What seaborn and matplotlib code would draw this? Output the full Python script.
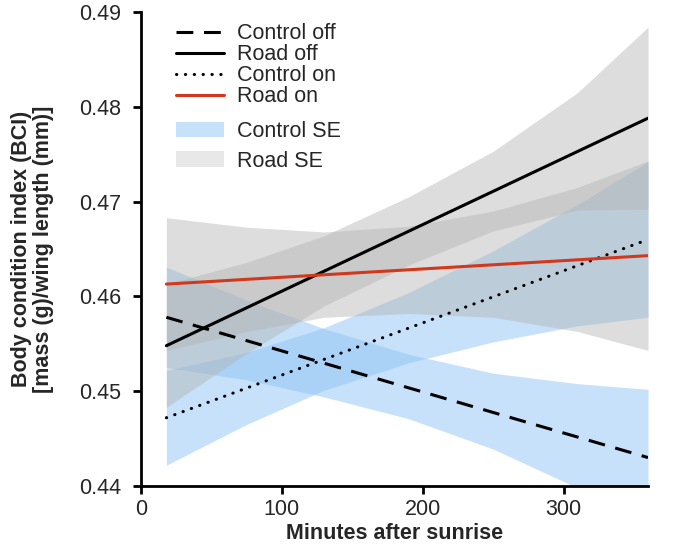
import matplotlib
matplotlib.use("Agg")
import matplotlib.pyplot as plt
from matplotlib.lines import Line2D
from matplotlib.patches import Patch
import numpy as np
import pandas as pd
import seaborn as sns

# fitted lines (endpoints of each regression)
x_line = [18, 360]
control_off = [0.4578, 0.4430]
road_off = [0.4548, 0.4788]
control_on = [0.4472, 0.4660]
road_on = [0.4613, 0.4643]

# SE bands read at these minutes
x_band = [18, 75, 130, 190, 250, 310, 360]
road_off_hi = [0.4613, 0.4636, 0.4664, 0.4705, 0.4753, 0.4815, 0.4884]
road_off_lo = [0.4483, 0.4540, 0.4590, 0.4633, 0.4669, 0.4691, 0.4692]
road_on_hi = [0.4683, 0.4673, 0.4668, 0.4674, 0.4690, 0.4715, 0.4743]
road_on_lo = [0.4543, 0.4563, 0.4578, 0.4582, 0.4578, 0.4563, 0.4543]
control_off_hi = [0.4631, 0.4596, 0.4566, 0.4539, 0.4519, 0.4508, 0.4502]
control_off_lo = [0.4525, 0.4512, 0.4494, 0.4471, 0.4439, 0.4398, 0.4358]
control_on_hi = [0.4522, 0.4541, 0.4567, 0.4604, 0.4648, 0.4697, 0.4742]
control_on_lo = [0.4422, 0.4465, 0.4501, 0.4530, 0.4552, 0.4569, 0.4578]

blue = "#8ec5f5"
grey = "#b4b4b4"
red = "#d2391c"
fs = 15.5

sns.set_style("ticks")
plt.rcParams["font.family"] = ["Liberation Sans", "DejaVu Sans"]

fig = plt.figure(figsize=(6.77, 5.48), dpi=100)
ax = fig.add_axes([0.2083, 0.1131, 0.7489, 0.865])

# bands
ax.fill_between(x_band, control_off_lo, control_off_hi, color=blue, alpha=0.5, lw=0)
ax.fill_between(x_band, control_on_lo, control_on_hi, color=blue, alpha=0.5, lw=0)
ax.fill_between(x_band, road_off_lo, road_off_hi, color=grey, alpha=0.45, lw=0)
ax.fill_between(x_band, road_on_lo, road_on_hi, color=grey, alpha=0.45, lw=0)

lines = pd.DataFrame({
    "x": x_line * 4,
    "y": control_off + road_off + control_on + road_on,
    "grp": ["Control off"] * 2 + ["Road off"] * 2 + ["Control on"] * 2 + ["Road on"] * 2,
})
styles = {
    "Control off": dict(color="black", ls=(0, (5.5, 3.5))),
    "Road off": dict(color="black", ls="-"),
    "Control on": dict(color="black", ls=(0, (0.1, 2.8)), dash_capstyle="round"),
    "Road on": dict(color=red, ls="-"),
}
for g, st in styles.items():
    d = lines[lines.grp == g]
    sns.lineplot(data=d, x="x", y="y", ax=ax, lw=2.2, **st)

ax.set_xlim(0, 360)
ax.set_ylim(0.44, 0.49)
ax.set_xticks([0, 100, 200, 300])
ax.set_yticks([0.44, 0.45, 0.46, 0.47, 0.48, 0.49])
ax.set_yticklabels(["0.44", "0.45", "0.46", "0.47", "0.48", "0.49"])
ax.tick_params(labelsize=fs, width=2, length=6, direction="out", color="black")
ax.tick_params(axis="y", pad=8)
sns.despine(ax=ax)
for s in ["left", "bottom"]:
    ax.spines[s].set_linewidth(2)
    ax.spines[s].set_color("black")

ax.set_xlabel("Minutes after sunrise", fontsize=fs, fontweight="bold", labelpad=2)
ax.set_ylabel("Body condition index (BCI)\n[mass (g)/wing length (mm)]",
              fontsize=fs, fontweight="bold", linespacing=1.05)
ax.yaxis.set_label_coords(-0.172, 0.5)

h1 = [Line2D([], [], lw=2.2, **styles[g]) for g in styles]
leg1 = ax.legend(h1, list(styles), loc="upper left", bbox_to_anchor=(0.039, 1.008),
                 frameon=False, fontsize=fs, handlelength=2.25, labelspacing=0.0,
                 handletextpad=0.6, borderpad=0.2)
ax.add_artist(leg1)
h2 = [Patch(facecolor=blue, alpha=0.5, lw=0), Patch(facecolor=grey, alpha=0.3, lw=0)]
ax.legend(h2, ["Control SE", "Road SE"], loc="upper left", bbox_to_anchor=(0.039, 0.802),
          frameon=False, fontsize=fs, handlelength=2.25, handleheight=0.75,
          labelspacing=0.4, handletextpad=0.6, borderpad=0.2)

fig.savefig("out.png", dpi=100)
